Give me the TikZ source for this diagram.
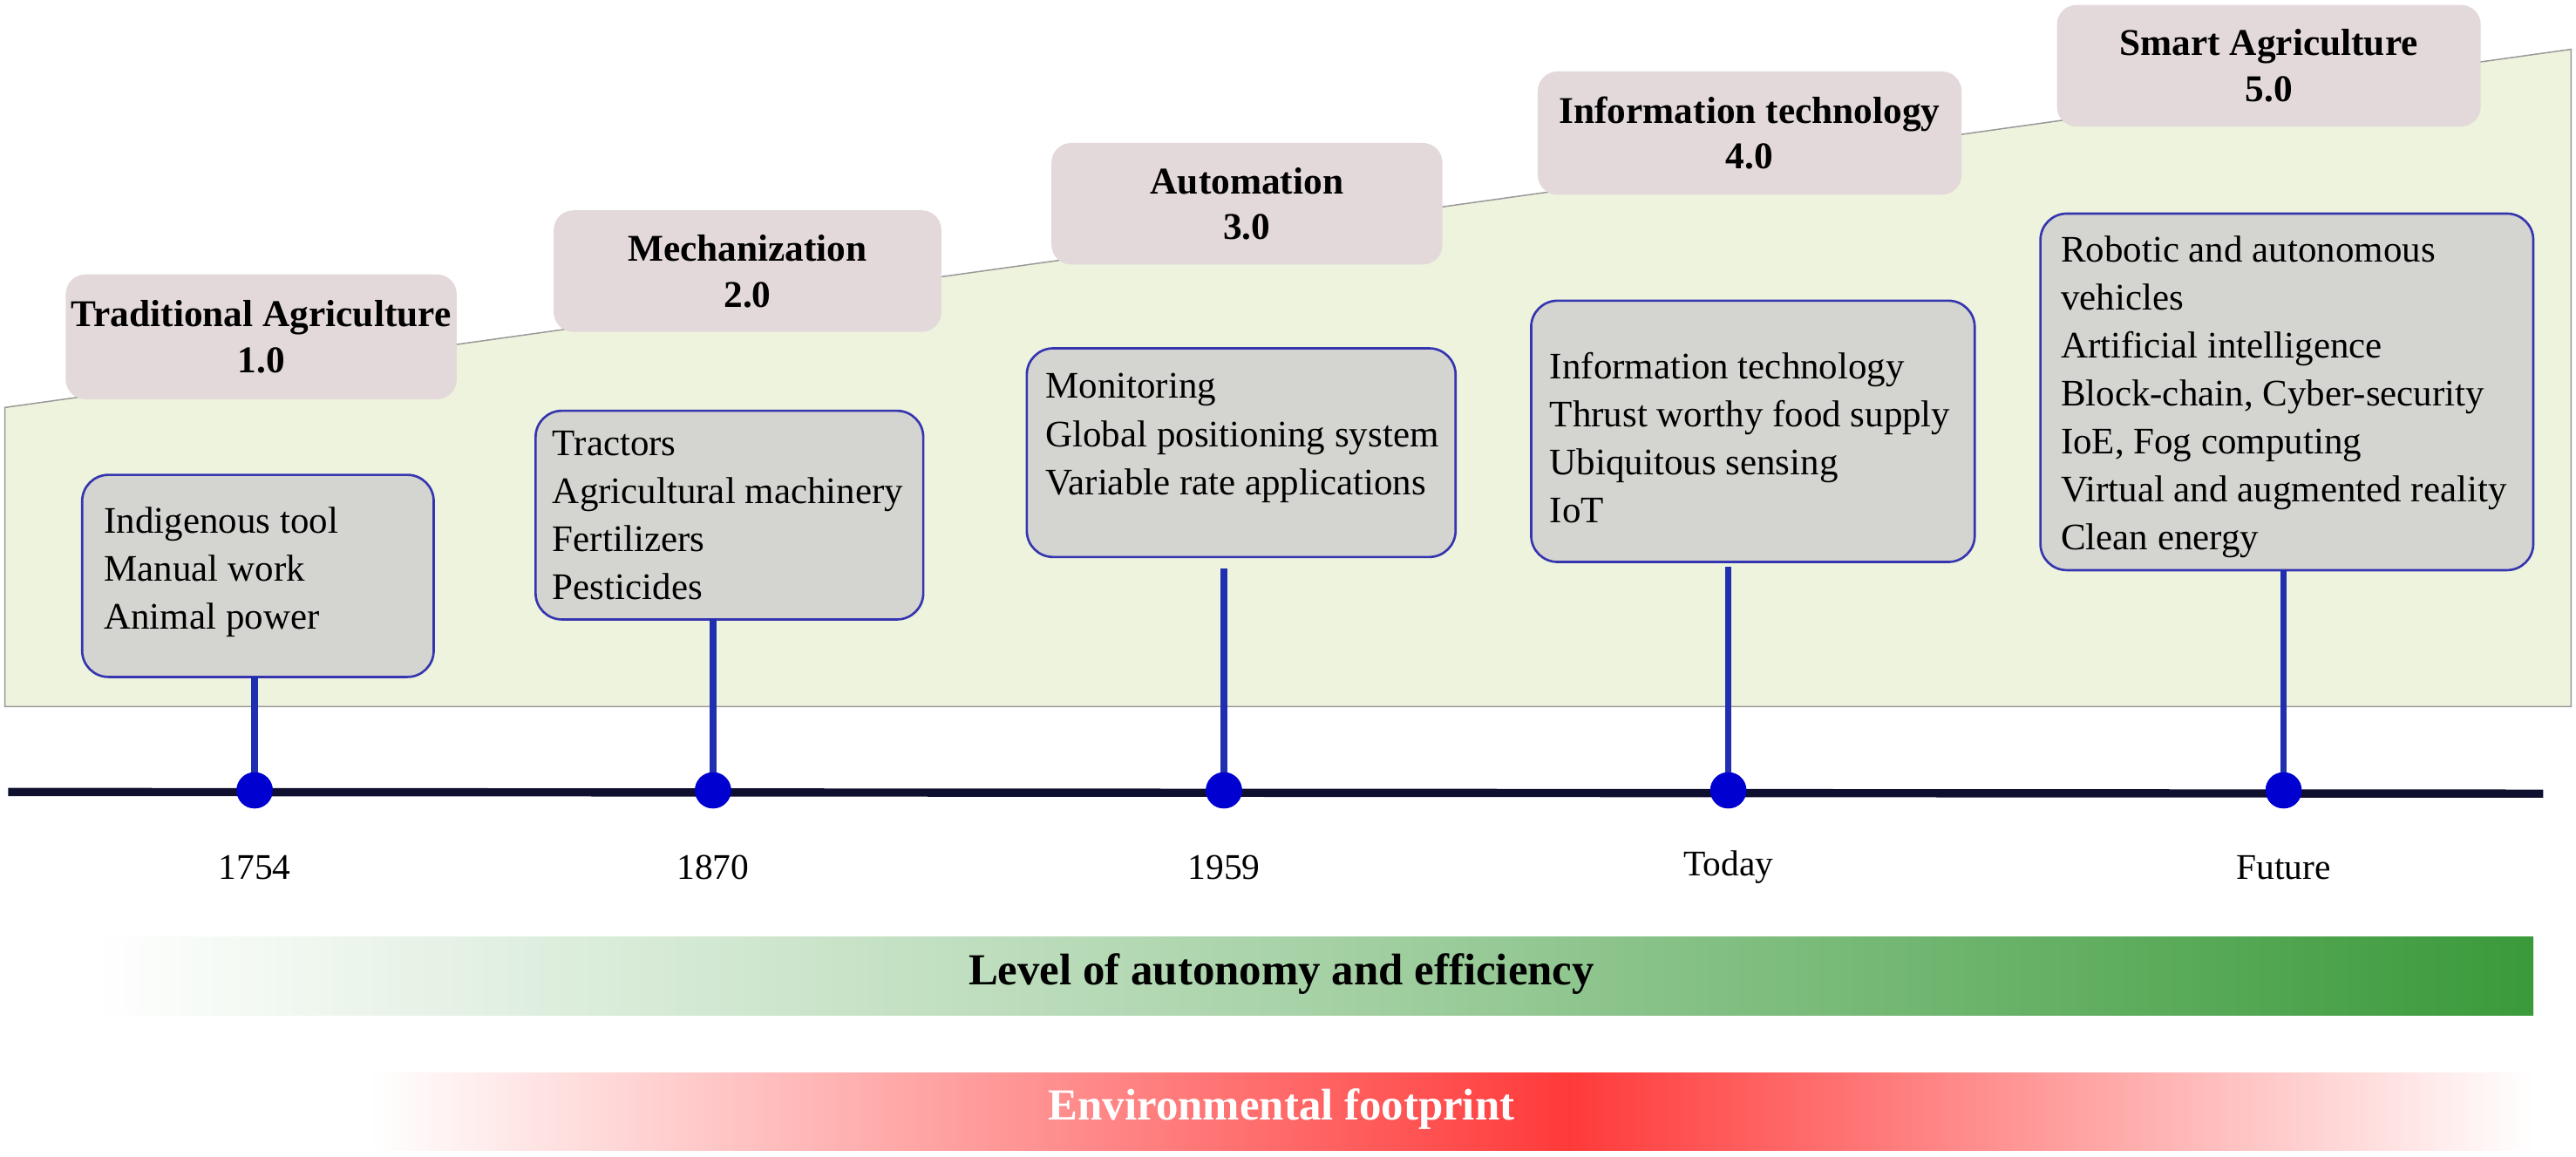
\documentclass[tikz,border=0pt]{standalone}
\usepackage{fontspec}
\setmainfont{Liberation Serif}
\begin{document}
\begin{tikzpicture}[x=0.5pt,y=-0.5pt,
 title/.style={fill=ttl,rounded corners=6pt,font=\bfseries\fontsize{11.5}{14}\selectfont,align=center,inner sep=0pt},
 content/.style={fill=cnt,draw=bord,line width=0.7pt,rounded corners=8pt},
 ctext/.style={anchor=north west,align=left,font=\fontsize{11.4}{14.6}\selectfont,inner sep=0pt},
 stem/.style={draw=stemc,line width=2pt},
 dot/.style={circle,fill=dotc,inner sep=0pt,minimum size=11pt},
 year/.style={font=\fontsize{11}{12}\selectfont}]
\definecolor{ttl}{HTML}{E3D9DA}
\definecolor{cnt}{HTML}{D4D4D0}
\definecolor{bord}{HTML}{3535B0}
\definecolor{stemc}{HTML}{1F2FB0}
\definecolor{dotc}{HTML}{0000D0}
\definecolor{bg}{HTML}{EEF3DD}
\definecolor{axis}{HTML}{0F1030}
\definecolor{grn}{HTML}{3A9A3A}
\definecolor{rd}{HTML}{FF3A3A}
\useasboundingbox (0,0) rectangle (1568,704);
\fill[bg,draw=gray!80] (3,248) -- (1565,30) -- (1565,430) -- (3,430) -- cycle;
% title boxes
\node[title,minimum width=119pt,minimum height=38pt] (t1) at (159,205) {Traditional Agriculture\\1.0};
\node[title,minimum width=118pt,minimum height=37pt] (t2) at (455,165) {Mechanization\\2.0};
\node[title,minimum width=119pt,minimum height=37pt] (t3) at (759,124) {Automation\\3.0};
\node[title,minimum width=129pt,minimum height=37.5pt] (t4) at (1065,81) {Information technology\\4.0};
\node[title,minimum width=129pt,minimum height=37pt] (t5) at (1381,40) {Smart Agriculture\\5.0};
% content boxes
\draw[content] (50,289) rectangle (264,412);
\node[ctext] (c1) at (63,308) {Indigenous tool\\Manual work\\Animal power};
\draw[content] (326,250) rectangle (562,377);
\node[ctext] (c2) at (336,262) {Tractors\\Agricultural machinery\\Fertilizers\\Pesticides};
\draw[content] (625,212) rectangle (886,339);
\node[ctext] (c3) at (636,227) {Monitoring\\Global positioning system\\Variable rate applications};
\draw[content] (932,183) rectangle (1202,342);
\node[ctext] (c4) at (943,214) {Information technology\\Thrust worthy food supply\\Ubiquitous sensing\\IoT};
\draw[content] (1242,130) rectangle (1542,347);
\node[ctext] (c5) at (1254,143) {Robotic and autonomous\\vehicles\\Artificial intelligence\\Block-chain, Cyber-security\\IoE, Fog computing\\Virtual and augmented reality\\Clean energy};
% axis
\coordinate (a0) at (5,482); \coordinate (a1) at (1548,483);
\draw[axis,line width=2.5pt] (a0) -- (a1);
\foreach \n/\x/\y/\lab in {1/155/412/1754,2/434/377/1870,3/745/346/1959,4/1052/345/Today,5/1390/347/Future}{
 \coordinate (s\n) at (\x,\y);
 \node[dot] (d\n) at (\x,481) {};
 \draw[stem] (s\n) -- (d\n.center);
 \node[dot] at (\x,481) {};
 \node[year] (y\n) at (\x,528) {\lab};
}
% bars
\shade[left color=white,right color=grn,middle color=grn!45] (55,570) rectangle (1542,618);
\node[font=\bfseries\fontsize{13.5}{15}\selectfont] (g) at (780,593) {Level of autonomy and efficiency};
\shade[left color=white,right color=rd] (225,653) rectangle (955,700);
\shade[left color=rd,right color=white] (955,653) rectangle (1542,700);
\node[font=\bfseries\fontsize{13.5}{15}\selectfont,text=white] (r) at (780,675) {Environmental footprint};
\end{tikzpicture}
\end{document}
